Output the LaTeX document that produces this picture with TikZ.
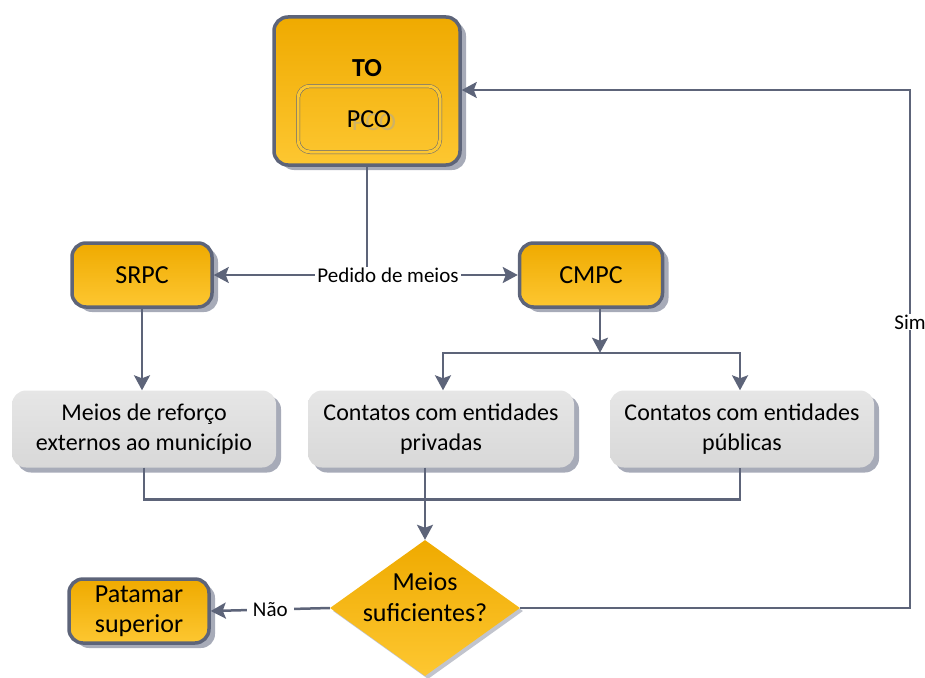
\documentclass[tikz,border=0pt]{standalone}
\usepackage{fontspec}
\setmainfont{Carlito}
\usetikzlibrary{shapes.geometric,shadows,arrows.meta}

\definecolor{linha}{HTML}{5D6479}
\definecolor{laranjaA}{HTML}{EFAA00}
\definecolor{laranjaB}{HTML}{FDC731}
\definecolor{cinzaA}{HTML}{E6E6E6}
\definecolor{cinzaB}{HTML}{D8D8D8}
\definecolor{sombra}{HTML}{A7ABB8}

\begin{document}
\begin{tikzpicture}[x=1pt, y=-1pt,
  caixa/.style={rectangle, rounded corners=14pt, draw=linha, line width=3.5pt,
    top color=laranjaA, bottom color=laranjaB, inner sep=0pt, align=center,
    drop shadow={shadow xshift=6pt, shadow yshift=-5pt, fill=sombra, opacity=1},
    font=\fontsize{26}{30}\selectfont},
  cinza/.style={rectangle, rounded corners=14pt, top color=cinzaA, bottom color=cinzaB,
    inner sep=0pt, align=center, minimum width=264pt, minimum height=77pt,
    drop shadow={shadow xshift=5pt, shadow yshift=-5pt, fill=sombra, opacity=1},
    font=\fontsize{24}{30}\selectfont},
  seta/.style={draw=linha, line width=2.5pt, -{Stealth[length=15pt, width=16pt, inset=3pt]}},
  fio/.style={draw=linha, line width=2.5pt},
  rotulo/.style={fill=white, inner xsep=2pt, inner ysep=1pt, font=\fontsize{21}{24}\selectfont}
]
\useasboundingbox (0,0) rectangle (925,677);

%TO / PCO
\node[caixa, minimum width=186pt, minimum height=148pt] (to) at (367,91) {};
\node[font=\fontsize{26}{30}\selectfont\bfseries] (toTit) at (367,68) {TO};
\node[rectangle, rounded corners=12pt, draw=linha, line width=0.5pt, double=laranjaB,
  double distance=3pt, minimum width=142pt, minimum height=66pt] (pco) at (369,119) {};
\node[text=black!35, opacity=0.5, font=\fontsize{26}{30}\selectfont] (pcoSombra) at (374,122) {PCO};
\node[font=\fontsize{26}{30}\selectfont] (pcoTit) at (369,119) {PCO};

%SRPC e CMPC
\node[caixa, minimum width=140pt, minimum height=64pt] (srpc) at (142,275) {SRPC};
\node[caixa, minimum width=143pt, minimum height=64pt] (cmpc) at (591,275) {CMPC};

%meios
\node[cinza] (meiosRef) at (144,429) {Meios de reforço\\externos ao município};
\node[cinza, minimum width=266pt] (privadas) at (441,429) {Contatos com entidades\\privadas};
\node[cinza] (publicas) at (742,429) {Contatos com entidades\\públicas};

%decisao
\node[diamond, minimum width=190pt, minimum height=136pt, inner sep=0pt,
  top color=laranjaA, bottom color=laranjaB,
  drop shadow={shadow xshift=3pt, shadow yshift=-3pt, fill=sombra!70, opacity=1}] (decisao) at (425,608) {};
\node[align=center, font=\fontsize{26}{31}\selectfont] (decisaoTxt) at (425,597) {Meios\\suficientes?};

\node[caixa, minimum width=140pt, minimum height=64pt] (patamar) at (139,611) {Patamar\\superior};

%ligacoes
\coordinate (pedido) at (to.south |- srpc);
\draw[fio] (to.south) -- (pedido);
\draw[seta] (pedido) -- (srpc.east);
\draw[seta] (pedido) -- (cmpc.west);
\node[rotulo] (pedidoRot) at (388,275) {Pedido de meios};

\draw[seta] (srpc.south) -- (srpc.south |- meiosRef.north);
\draw[seta] ([xshift=9pt]cmpc.south) -- ++(0,44) coordinate (ramo);
\draw[seta] (ramo) -| ([xshift=2pt]privadas.north);
\draw[seta] (ramo) -| ([xshift=-2pt]publicas.north);

\draw[fio] (meiosRef.south) -- ++(0,32) -| ([xshift=-2pt]publicas.south);
\draw[seta] (decisao.north |- privadas.south) -- (decisao.north);

\draw[seta] (decisao.west) -- (patamar.east) node[rotulo, pos=0.5, inner xsep=6pt] (naoRot) {Não};

\coordinate (simCanto) at (910,90);
\draw[seta] (decisao.east) -| (simCanto) -- (to.east |- simCanto);
\node[rotulo] (simRot) at (910,322) {Sim};
\end{tikzpicture}
\end{document}
